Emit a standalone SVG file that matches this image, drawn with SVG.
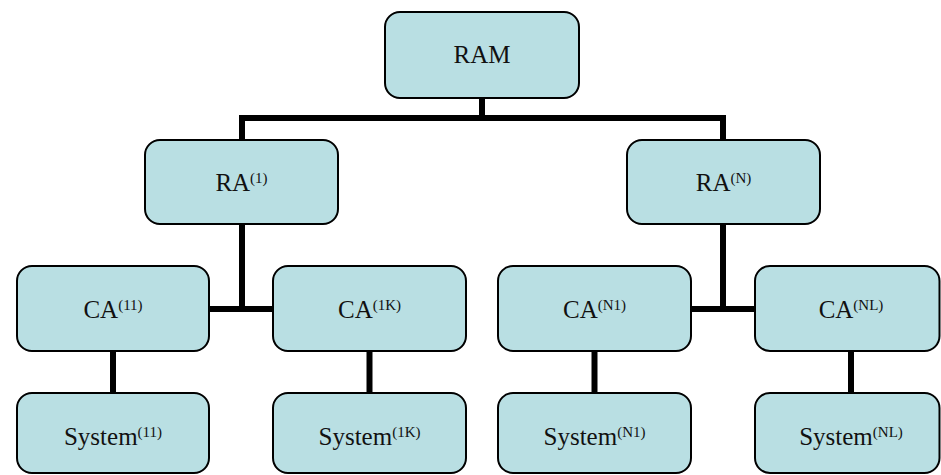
<svg xmlns="http://www.w3.org/2000/svg" width="941" height="475" viewBox="0 0 941 475">
<style>
.box{fill:#b9dfe3;stroke:#000;stroke-width:2}
.lbl{font-family:"Liberation Serif","Times New Roman",serif;font-size:25px;fill:#111;text-anchor:middle}
.sup{font-size:15px}
.conn{fill:none;stroke:#000;stroke-width:6;stroke-linejoin:miter;stroke-linecap:butt}
</style>
<rect width="941" height="475" fill="#fff"/>
<g id="connectors">
<polyline class="conn" points="482,98 482,118"/>
<polyline class="conn" points="242,140 242,118 723,118 723,140"/>
<polyline class="conn" points="242,224 242,309"/>
<polyline class="conn" points="209,309 273,309"/>
<polyline class="conn" points="723,224 723,309"/>
<polyline class="conn" points="691,309 755,309"/>
<polyline class="conn" points="113,351 113,393"/>
<polyline class="conn" points="369.5,351 369.5,393"/>
<polyline class="conn" points="594.5,351 594.5,393"/>
<polyline class="conn" points="851,351 851,393"/>
</g>
<g id="RAM"><rect class="box" x="385" y="12" width="194" height="86" rx="15"/><text class="lbl" x="482" y="63">RAM</text></g>
<g id="RA1"><rect class="box" x="145" y="140" width="193" height="84" rx="15"/><text class="lbl" x="241.5" y="191">RA<tspan class="sup" dy="-8">(1)</tspan></text></g>
<g id="RAN"><rect class="box" x="627" y="140" width="193" height="84" rx="15"/><text class="lbl" x="723.5" y="191">RA<tspan class="sup" dy="-8">(N)</tspan></text></g>
<g id="CA11"><rect class="box" x="17" y="266" width="192" height="85" rx="15"/><text class="lbl" x="113" y="318">CA<tspan class="sup" dy="-8">(11)</tspan></text></g>
<g id="CA1K"><rect class="box" x="273" y="266" width="193" height="85" rx="15"/><text class="lbl" x="369.5" y="318">CA<tspan class="sup" dy="-8">(1K)</tspan></text></g>
<g id="CAN1"><rect class="box" x="498" y="266" width="193" height="85" rx="15"/><text class="lbl" x="594.5" y="318">CA<tspan class="sup" dy="-8">(N1)</tspan></text></g>
<g id="CANL"><rect class="box" x="755" y="266" width="184.5" height="85" rx="15"/><text class="lbl" x="851" y="318">CA<tspan class="sup" dy="-8">(NL)</tspan></text></g>
<g id="Sys11"><rect class="box" x="17" y="393" width="192" height="80" rx="15"/><text class="lbl" x="113" y="445">System<tspan class="sup" dy="-8">(11)</tspan></text></g>
<g id="Sys1K"><rect class="box" x="273" y="393" width="193" height="80" rx="15"/><text class="lbl" x="369.5" y="445">System<tspan class="sup" dy="-8">(1K)</tspan></text></g>
<g id="SysN1"><rect class="box" x="498" y="393" width="193" height="80" rx="15"/><text class="lbl" x="594.5" y="445">System<tspan class="sup" dy="-8">(N1)</tspan></text></g>
<g id="SysNL"><rect class="box" x="755" y="393" width="184.5" height="80" rx="15"/><text class="lbl" x="851" y="445">System<tspan class="sup" dy="-8">(NL)</tspan></text></g>
</svg>
